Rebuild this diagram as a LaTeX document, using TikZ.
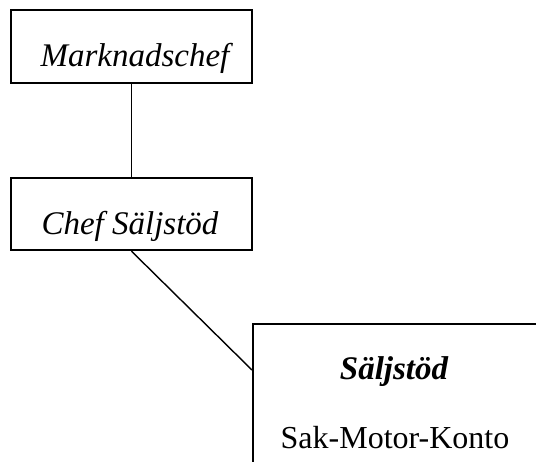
\documentclass[tikz,border=0pt]{standalone}
\usepackage{fontspec}
\setmainfont{Liberation Serif}
\begin{document}
\begin{tikzpicture}[x=0.5pt, y=-0.5pt,
        box/.style = {draw, line width=1.2pt, rectangle, inner sep=0pt},
        boxtext/.style = {anchor=base, inner sep=0pt, font=\fontsize{16.5}{20}\selectfont\itshape},
        unittext/.style = {boxtext, font=\fontsize{16.5}{20}\selectfont\bfseries\itshape},
        subtext/.style = {boxtext, font=\fontsize{16}{20}\selectfont},
        link/.style = {draw, line width=0.7pt}]
    \clip (0,0) rectangle (536,461);
    \node[box, minimum width=120.5pt, minimum height=36.5pt] (mkt) at (131.5,46.5) {};
    \node[box, minimum width=120.5pt, minimum height=36pt] (chef) at (131.5,214) {};
    \node[box, minimum width=143pt, minimum height=80pt, anchor=north west] (sales) at (252,323) {};
    \node[boxtext] (mkttxt) at (135,66.5) {Marknadschef};
    \node[boxtext] (cheftxt) at (130,234) {Chef Säljstöd};
    \node[unittext] (salestxt) at (394,379) {Säljstöd};
    \node[subtext] (smk) at (395,448) {Sak-Motor-Konto};
    \path[link] (mkt.south) -- (chef.north);
    \path[link] (chef.south) -- (sales.west |- 0,370);
\end{tikzpicture}
\end{document}
